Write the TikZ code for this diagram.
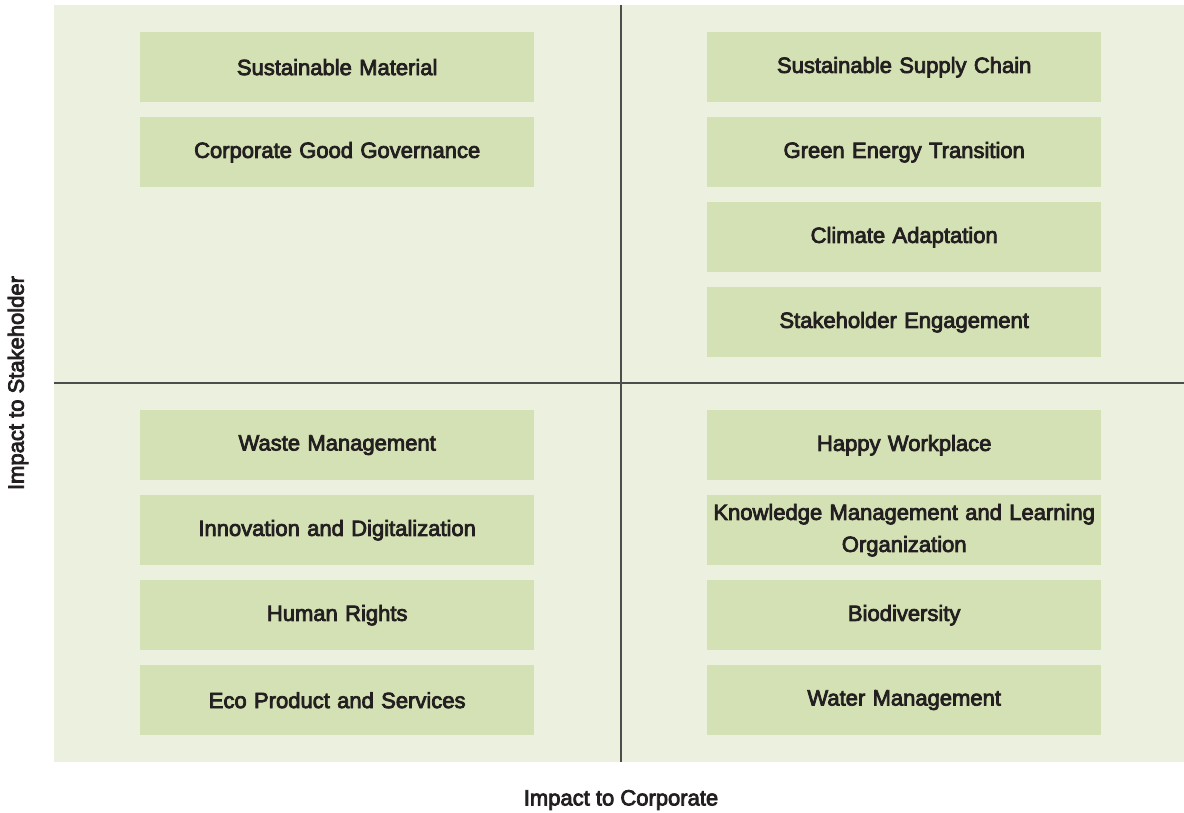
\documentclass[tikz,border=0pt]{standalone}
\usepackage{fontspec}
\setmainfont{Liberation Sans}
\newfontfamily\medfont[FakeBold=3.5]{Liberation Sans}
\usetikzlibrary{positioning}
\definecolor{ink}{HTML}{231F20}
\definecolor{panelfill}{HTML}{EBF1DE}
\definecolor{itemfill}{HTML}{D4E1B4}
\definecolor{axisline}{HTML}{4D4D4D}

\begin{document}
\begin{tikzpicture}[
 x=1pt,y=-1pt,font=\fontsize{22}{32}\selectfont\medfont,text=ink,
 panel/.style={fill=panelfill,draw=none,inner sep=0pt,anchor=north west},
 item/.style={fill=itemfill,draw=none,inner sep=0pt,align=center,text width=392pt,minimum width=394pt,minimum height=70pt,anchor=north west},
 divider/.style={draw=axisline,line width=1.4pt},
 axislab/.style={font=\fontsize{22}{24}\selectfont\medfont,inner sep=0pt}
]
\useasboundingbox (0,0) rectangle (1184,812);
\node[panel,minimum width=1130pt,minimum height=757pt] (bg) at (54,5) {};
% quadrant dividers
\coordinate (vtop) at (621,5);
\coordinate (vbot) at (621,762);
\coordinate (hleft) at (54,383);
\coordinate (hright) at (1184,383);
\draw[divider] (vtop) -- (vbot);
\draw[divider] (hleft) -- (hright);
% top left
\node[item] (sm) at (140,32) {Sustainable Material};
\node[item] (cgg) at (140,117) {Corporate Good Governance};
% top right
\node[item] (ssc) at (707,32) {Sustainable Supply Chain};
\node[item] (get) at (707,117) {Green Energy Transition};
\node[item] (ca) at (707,202) {Climate Adaptation};
\node[item] (se) at (707,287) {Stakeholder Engagement};
% bottom left
\node[item] (wm) at (140,410) {Waste Management};
\node[item] (id) at (140,495) {Innovation and Digitalization};
\node[item] (hr) at (140,580) {Human Rights};
\node[item] (eps) at (140,665) {Eco Product and Services};
% bottom right
\node[item] (hw) at (707,410) {Happy Workplace};
\node[item] (kml) at (707,495) {Knowledge Management and Learning\\Organization};
\node[item] (bio) at (707,580) {Biodiversity};
\node[item] (wtm) at (707,665) {Water Management};
% axes
\node[axislab] (xlab) at (621,800) {Impact to Corporate};
\node[axislab,rotate=90] (ylab) at (18,383) {Impact to Stakeholder};
\end{tikzpicture}
\end{document}
